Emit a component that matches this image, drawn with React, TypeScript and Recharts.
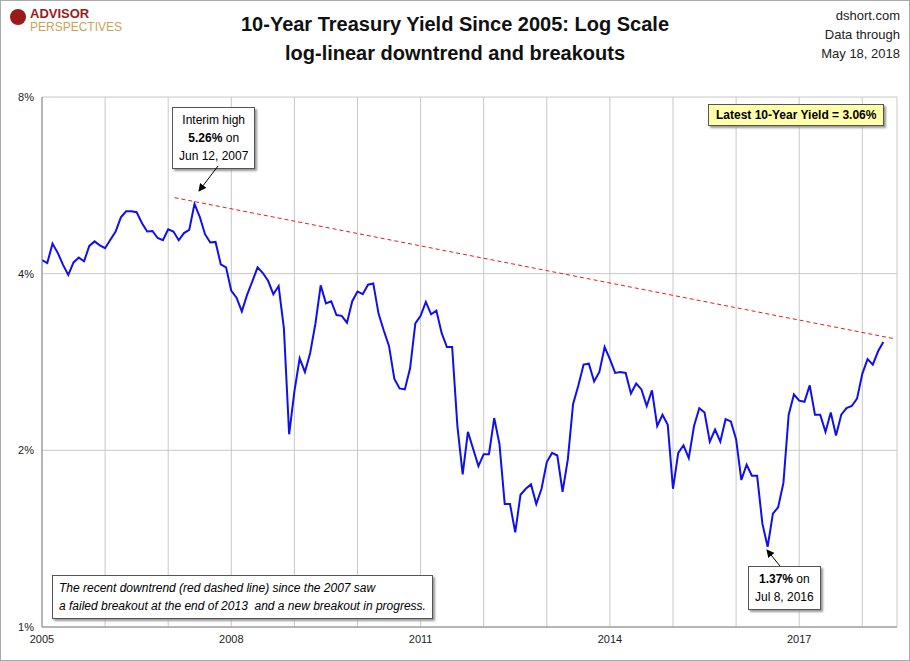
import * as React from 'react';
import { LineChart, Line, XAxis, YAxis, CartesianGrid } from 'recharts';

const startYear = 2005;
const monthlyYield = [
  4.22, 4.17, 4.50, 4.34, 4.14, 3.98, 4.18, 4.26, 4.20, 4.46, 4.54, 4.47,
  4.42, 4.57, 4.72, 4.99, 5.11, 5.11, 5.09, 4.88, 4.72, 4.73, 4.60, 4.56,
  4.76, 4.72, 4.56, 4.69, 4.75, 5.26, 5.00, 4.67, 4.52, 4.53, 4.15, 4.10,
  3.74, 3.64, 3.45, 3.68, 3.88, 4.10, 4.01, 3.89, 3.69, 3.81, 3.23, 2.13,
  2.52, 2.87, 2.72, 2.93, 3.29, 3.82, 3.56, 3.59, 3.40, 3.39, 3.30, 3.59,
  3.73, 3.69, 3.83, 3.85, 3.42, 3.20, 3.01, 2.65, 2.55, 2.54, 2.76, 3.29,
  3.39, 3.58, 3.41, 3.46, 3.17, 3.00, 3.00, 2.20, 1.82, 2.15, 2.01, 1.88,
  1.97, 1.97, 2.27, 2.05, 1.62, 1.62, 1.45, 1.68, 1.72, 1.75, 1.62, 1.72,
  1.91, 1.98, 1.96, 1.70, 1.93, 2.40, 2.58, 2.80, 2.81, 2.62, 2.72, 3.00,
  2.86, 2.71, 2.72, 2.71, 2.50, 2.60, 2.54, 2.38, 2.53, 2.20, 2.30, 2.21,
  1.72, 1.98, 2.04, 1.94, 2.20, 2.36, 2.32, 2.07, 2.17, 2.07, 2.26, 2.24,
  2.09, 1.78, 1.89, 1.81, 1.81, 1.50, 1.37, 1.56, 1.60, 1.76, 2.30, 2.49,
  2.43, 2.42, 2.58, 2.30, 2.30, 2.15, 2.32, 2.12, 2.30, 2.36, 2.38, 2.45,
  2.70, 2.86, 2.80, 2.95, 3.06,
];
const trendPoints = [
  { t: 2007.1, v: 5.39 },
  { t: 2018.5, v: 3.1 },
];
const yearTicks = [2005, 2006, 2007, 2008, 2009, 2010, 2011, 2012, 2013, 2014, 2015, 2016, 2017, 2018];
const yTicks = [1, 2, 4, 8];

const data = monthlyYield.map((v, i) => ({ t: startYear + i / 12, v }));

const box: React.CSSProperties = {
  position: 'absolute', background: '#fff', border: '1px solid #555', fontSize: 12,
  fontFamily: 'Arial, "Liberation Sans", sans-serif', boxShadow: '2px 2px 2px #999', textAlign: 'center',
};

export default function App() {
  return (
    <div style={{ position: 'absolute', left: 0, top: 0, width: 910, height: 661, background: '#fff', fontFamily: 'Arial, "Liberation Sans", sans-serif' }}>
      <div style={{ position: 'absolute', left: 0, top: 0, width: 908, height: 659, border: '1px solid #aaa' }} />
      <LineChart width={910} height={661} data={data} margin={{ top: 97, right: 13, bottom: 14, left: 2 }}>
        <CartesianGrid stroke="#c8c8c8" vertical horizontal />
        <XAxis dataKey="t" type="number" domain={[2005, 2018.55]} ticks={yearTicks} height={20}
          tickFormatter={(y: number) => ((y - 2005) % 3 === 0 ? String(y) : '')}
          tick={{ fontSize: 11, fill: '#222' }} tickLine={false} axisLine={{ stroke: '#888' }} allowDataOverflow />
        <YAxis scale="log" domain={[1, 8]} ticks={yTicks} width={40} tickFormatter={(v: number) => `${v}%`}
          tick={{ fontSize: 11, fill: '#222' }} tickLine={false} axisLine={{ stroke: '#888' }} allowDataOverflow />
        <Line dataKey="v" stroke="#1010ee" strokeWidth={2} dot={false} isAnimationActive={false} />
        <Line data={trendPoints} dataKey="v" stroke="#e02020" strokeDasharray="4 3" strokeWidth={1} dot={false} isAnimationActive={false} />
      </LineChart>
      <div style={{ position: 'absolute', left: 0, width: 910, top: 10, textAlign: 'center', fontSize: 20, fontWeight: 'bold', lineHeight: '29px', color: '#111' }}>
        10-Year Treasury Yield Since 2005: Log Scale<br />log-linear downtrend and breakouts
      </div>
      <div style={{ position: 'absolute', left: 30, top: 7, color: '#9b1b1b', fontWeight: 'bold', fontSize: 13, lineHeight: '14px' }}>ADVISOR</div>
      <div style={{ position: 'absolute', left: 30, top: 21, color: '#c8a25a', fontSize: 12, lineHeight: '13px' }}>PERSPECTIVES</div>
      <div style={{ position: 'absolute', left: 10, top: 9, width: 16, height: 16, borderRadius: 8, background: '#9b1b1b' }} />
      <div style={{ position: 'absolute', right: 10, top: 6, textAlign: 'right', fontSize: 13, lineHeight: '19px', color: '#222' }}>
        dshort.com<br />Data through<br />May 18, 2018
      </div>
      <div style={{ ...box, left: 708, top: 104, background: '#ffffaa', padding: '3px 7px', fontWeight: 'bold' }}>Latest 10-Year Yield = 3.06%</div>
      <div style={{ ...box, left: 172, top: 107, padding: '3px 6px', lineHeight: '18px' }}>
        Interim high<br /><b>5.26%</b> on<br />Jun 12, 2007
      </div>
      <div style={{ ...box, left: 748, top: 566, padding: '3px 6px', lineHeight: '18px' }}>
        <b>1.37%</b> on<br />Jul 8, 2016
      </div>
      <div style={{ ...box, left: 52, top: 575, padding: '3px 6px', lineHeight: '18px', fontStyle: 'italic', textAlign: 'left' }}>
        The recent downtrend (red dashed line) since the 2007 saw<br />a failed breakout at the end of 2013&nbsp; and a new breakout in progress.
      </div>
      <svg width={910} height={661} style={{ position: 'absolute', left: 0, top: 0, pointerEvents: 'none' }}>
        <defs>
          <marker id="ah" markerWidth="8" markerHeight="8" refX="7" refY="4" orient="auto">
            <path d="M0,0 L8,4 L0,8 z" fill="#000" />
          </marker>
        </defs>
        <line x1={218} y1={166} x2={199} y2={191} stroke="#000" markerEnd="url(#ah)" />
        <line x1={780} y1={566} x2={767} y2={550} stroke="#000" markerEnd="url(#ah)" />
      </svg>
    </div>
  );
}
